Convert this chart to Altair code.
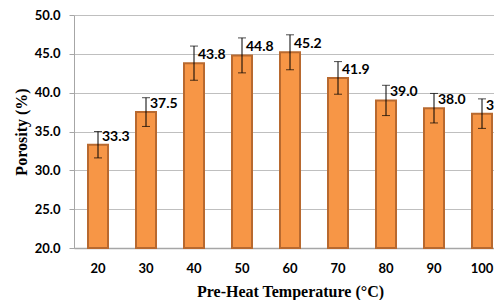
import altair as alt
import pandas as pd

temps = ["20", "30", "40", "50", "60", "70", "80", "90", "100"]
porosity = [33.3, 37.5, 43.8, 44.8, 45.2, 41.9, 39.0, 38.0, 37.3]
err = [1.7, 1.85, 2.2, 2.25, 2.25, 2.1, 1.95, 1.9, 1.9]
y_ticks = [20, 25, 30, 35, 40, 45, 50]

df = pd.DataFrame({"temp": temps, "porosity": porosity, "err": err})
df["lo"] = df["porosity"] - df["err"]
df["hi"] = df["porosity"] + df["err"]
df["label"] = df["porosity"].map(lambda v: f"{v:.1f}")

xaxis = alt.Axis(
    title="Pre-Heat Temperature (°C)",
    labelAngle=0,
    ticks=False,
    labelPadding=14,
    labelFont="Lato",
    labelFontWeight="bold",
    labelFontSize=13,
    labelColor="#000000",
    titleFont="Liberation Serif",
    titleFontWeight="bold",
    titleFontSize=16,
    titleColor="#000000",
    titlePadding=8,
    domainColor="#A6A6A6",
    domainWidth=1.5,
)
xscale = alt.Scale(range=[0, 432], paddingInner=0, paddingOuter=0)

yaxis = alt.Axis(
    title="Porosity (%)",
    values=y_ticks,
    format=".1f",
    labelOverlap=False,
    tickSize=5,
    tickColor="#A6A6A6",
    labelPadding=9,
    labelFont="Lato",
    labelFontWeight="bold",
    labelFontSize=13,
    labelColor="#000000",
    titleFont="Liberation Serif",
    titleFontWeight="bold",
    titleFontSize=16,
    titleColor="#000000",
    titlePadding=5,
    grid=True,
    gridColor="#BFBFBF",
    gridWidth=1,
    domainColor="#A6A6A6",
)
yscale = alt.Scale(domain=[20, 50], nice=False, zero=False)


def X():
    return alt.X("temp:N", sort=temps, scale=xscale, axis=xaxis)


def Y(field):
    return alt.Y(field, scale=yscale, axis=yaxis)


base = alt.Chart(df)

bars = base.mark_bar(
    width=20, color="#F79646", stroke="#B8692F", strokeWidth=2
).encode(x=X(), y=Y("porosity:Q"), y2=alt.datum(20))

rules = base.mark_rule(color="#000000", strokeWidth=1).encode(
    x=X(), y=Y("lo:Q"), y2="hi:Q"
)

caps_hi = base.mark_tick(color="#000000", size=8, thickness=1).encode(
    x=X(), y=Y("hi:Q")
)
caps_lo = base.mark_tick(color="#000000", size=8, thickness=1).encode(
    x=X(), y=Y("lo:Q")
)

labels = base.mark_text(
    align="left",
    baseline="middle",
    dx=4,
    dy=-8,
    font="Lato",
    fontWeight="bold",
    fontSize=14,
    color="#000000",
    clip=True,
).encode(x=X(), y=Y("porosity:Q"), text="label:N")

chart = (
    alt.layer(bars, rules, caps_hi, caps_lo, labels)
    .properties(
        width=420,
        height=233,
        autosize=alt.AutoSizeParams(type="none"),
        padding={"left": 66, "top": 7, "right": 0, "bottom": 52},
        background="#FFFFFF",
    )
    .configure_view(stroke=None)
)

chart.save("out.html", embed_options={"renderer": "svg", "actions": False})
